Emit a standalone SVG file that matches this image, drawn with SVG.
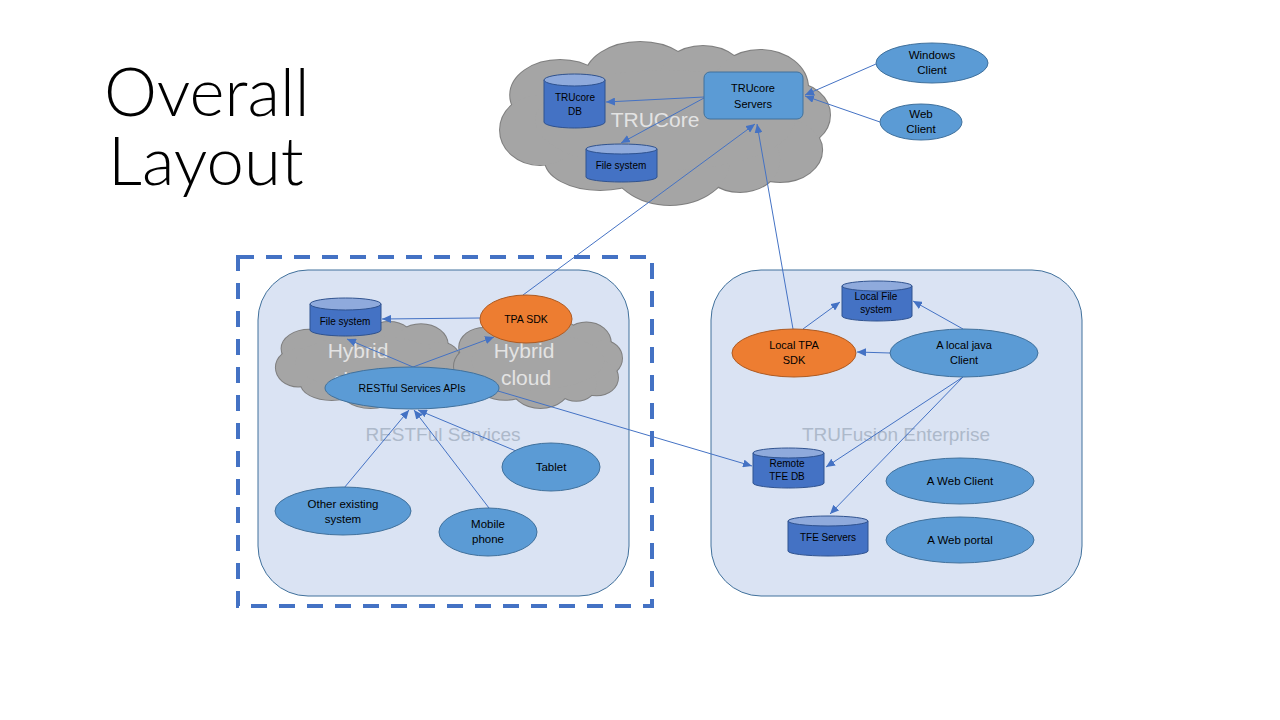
<svg xmlns="http://www.w3.org/2000/svg" xmlns:xlink="http://www.w3.org/1999/xlink" width="1280" height="720" viewBox="0 0 1280 720">
<style>
  .title{font-family:Lato,"Open Sans","Liberation Sans",sans-serif;font-weight:300;font-size:67px;fill:#000}
  .panel{fill:#DAE3F3;stroke:#41719C;stroke-width:1}
  .plabel{font-family:"Liberation Sans",Arial,sans-serif;font-size:19px;fill:#ADB9CA;text-anchor:middle}
  .clabel{font-family:"Liberation Sans",Arial,sans-serif;font-size:21px;fill:#E3E3E3;text-anchor:middle}
  .cstroke{fill:#A5A5A5;stroke:#7F7F7F;stroke-width:2}
  .cfill{fill:#A5A5A5;stroke:none}
  .ell{fill:#5B9BD5;stroke:#41719C;stroke-width:1}
  .org{fill:#ED7D31;stroke:#AE5A21;stroke-width:1}
  .cylb{fill:#4472C4;stroke:#2F528F;stroke-width:1}
  .cylt{fill:#8FAADC;stroke:#2F528F;stroke-width:1}
  .t{font-family:"Liberation Sans",Arial,sans-serif;font-size:11.5px;fill:#000;text-anchor:middle}
  .ts{font-family:"Liberation Sans",Arial,sans-serif;font-size:10px;fill:#000;text-anchor:middle}
  .conn{fill:none;stroke:#4472C4;stroke-width:1;marker-end:url(#arr)}
</style>
<defs>
  <marker id="arr" markerUnits="userSpaceOnUse" markerWidth="10" markerHeight="8" refX="9" refY="4" orient="auto">
    <path d="M0,0 L9,4 L0,8 Z" fill="#4472C4"/>
  </marker>
  <g id="cloudE">
    <ellipse vector-effect="non-scaling-stroke" cx="17.7" cy="32.5" rx="15.2" ry="21.5"/>
    <ellipse vector-effect="non-scaling-stroke" cx="42.1" cy="22.1" rx="16.8" ry="22.1"/>
    <ellipse vector-effect="non-scaling-stroke" cx="61.3" cy="24.5" rx="13.7" ry="22.1"/>
    <ellipse vector-effect="non-scaling-stroke" cx="78.7" cy="28.2" rx="14.6" ry="23.3"/>
    <ellipse vector-effect="non-scaling-stroke" cx="88.7" cy="44.8" rx="11.3" ry="19.6"/>
    <ellipse vector-effect="non-scaling-stroke" cx="84.8" cy="66.3" rx="12.8" ry="19.6"/>
    <ellipse vector-effect="non-scaling-stroke" cx="72.6" cy="72.4" rx="12.2" ry="19.6"/>
    <ellipse vector-effect="non-scaling-stroke" cx="51.2" cy="72.4" rx="18.3" ry="27.6"/>
    <ellipse vector-effect="non-scaling-stroke" cx="29.9" cy="72.4" rx="16.8" ry="18.4"/>
    <ellipse vector-effect="non-scaling-stroke" cx="11.6" cy="54" rx="12.2" ry="21.5"/>
    <ellipse vector-effect="non-scaling-stroke" cx="49.7" cy="47.9" rx="39.6" ry="30.7"/>
  </g>
</defs>

<rect width="1280" height="720" fill="#FFFFFF"/>

<g id="title">
  <text class="title" x="104" y="116">Overall</text>
  <text class="title" x="108" y="185">Layout</text>
</g>

<!-- TRUCore cloud -->
<g id="trucore-cloud">
  <use href="#cloudE" class="cstroke" transform="translate(502,42) scale(3.28,1.63)"/>
  <use href="#cloudE" class="cfill" transform="translate(502,42) scale(3.28,1.63)"/>
  <text class="clabel" x="655" y="127">TRUCore</text>
</g>

<!-- Panels -->
<g id="restful-panel">
  <rect x="238" y="257" width="414" height="349" fill="none" stroke="#4472C4" stroke-width="4" stroke-dasharray="16 12"/>
  <rect class="panel" x="258" y="270" width="371" height="326" rx="50" ry="50"/>
  <text class="plabel" x="443" y="441">RESTFul Services</text>
</g>
<g id="trufusion-panel">
  <rect class="panel" x="711" y="270" width="371" height="326" rx="50" ry="50"/>
  <text class="plabel" x="896" y="441">TRUFusion Enterprise</text>
</g>

<!-- Hybrid clouds -->
<g id="hybrid-cloud-left">
  <use href="#cloudE" class="cstroke" transform="translate(277,320) scale(1.83,0.88)"/>
  <use href="#cloudE" class="cfill" transform="translate(277,320) scale(1.83,0.88)"/>
  <text class="clabel" x="358" y="358">Hybrid</text>
  <text class="clabel" x="358" y="387">cloud</text>
</g>
<g id="hybrid-cloud-right">
  <use href="#cloudE" class="cstroke" transform="translate(455,318) scale(1.67,0.90)"/>
  <use href="#cloudE" class="cfill" transform="translate(455,318) scale(1.67,0.90)"/>
  <text class="clabel" x="524" y="358">Hybrid</text>
  <text class="clabel" x="526" y="385">cloud</text>
</g>

<!-- Connectors -->
<g id="connectors">
  <path class="conn" d="M876,64 L805,95"/>
  <path class="conn" d="M880,122 L805,96"/>
  <path class="conn" d="M704,97 L606,102"/>
  <path class="conn" d="M704,98 L621,143"/>
  <path class="conn" d="M523,295 L755,124"/>
  <path class="conn" d="M793,329 L757,124"/>
  <path class="conn" d="M480,318 L382,319"/>
  <path class="conn" d="M413,367 L347,339"/>
  <path class="conn" d="M413,367 L494,337"/>
  <path class="conn" d="M498,391 L752,466"/>
  <path class="conn" d="M344,488 L409,410"/>
  <path class="conn" d="M489,508 L414,410"/>
  <path class="conn" d="M516,451 L418,410"/>
  <path class="conn" d="M803,329 L840,302"/>
  <path class="conn" d="M963,329 L913,301"/>
  <path class="conn" d="M890,353 L857,352"/>
  <path class="conn" d="M963,377 L826,467"/>
  <path class="conn" d="M963,377 L830,514"/>
</g>

<!-- TRUCore nodes -->
<g id="trucore-servers">
  <rect x="704" y="72" width="99" height="47" rx="6" ry="6" fill="#5B9BD5" stroke="#41719C" stroke-width="1"/>
  <text class="t" x="753" y="92" style="font-size:11px">TRUcore</text>
  <text class="t" x="753" y="108" style="font-size:11px">Servers</text>
</g>
<g id="trucore-db">
  <path class="cylb" d="M544,80 L544,122 A30.5,6 0 0 0 605,122 L605,80 Z"/>
  <ellipse class="cylt" cx="574.5" cy="80" rx="30.5" ry="6"/>
  <text class="ts" x="575" y="101">TRUcore</text>
  <text class="ts" x="575" y="115">DB</text>
</g>
<g id="trucore-filesystem">
  <path class="cylb" d="M586,149 L586,177 A35.5,5 0 0 0 657,177 L657,149 Z"/>
  <ellipse class="cylt" cx="621.5" cy="149" rx="35.5" ry="5"/>
  <text class="ts" x="621" y="169">File system</text>
</g>
<g id="windows-client">
  <ellipse class="ell" cx="932" cy="63" rx="56" ry="20"/>
  <text class="t" x="932" y="59">Windows</text>
  <text class="t" x="932" y="74">Client</text>
</g>
<g id="web-client">
  <ellipse class="ell" cx="921" cy="122" rx="41" ry="18"/>
  <text class="t" x="921" y="118">Web</text>
  <text class="t" x="921" y="133">Client</text>
</g>

<!-- RESTful nodes -->
<g id="rest-filesystem">
  <path class="cylb" d="M310,304 L310,330 A35.5,6 0 0 0 381,330 L381,304 Z"/>
  <ellipse class="cylt" cx="345.5" cy="304" rx="35.5" ry="6"/>
  <text class="ts" x="345" y="325">File system</text>
</g>
<g id="tpa-sdk">
  <ellipse class="org" cx="526" cy="319" rx="46" ry="24"/>
  <text class="t" x="526" y="323" style="font-size:10.5px">TPA SDK</text>
</g>
<g id="restful-apis">
  <ellipse class="ell" cx="412" cy="388" rx="87" ry="21"/>
  <text class="t" x="412" y="392" style="font-size:10.5px">RESTful Services APIs</text>
</g>
<g id="other-existing-system">
  <ellipse class="ell" cx="343" cy="511" rx="68" ry="24"/>
  <text class="t" x="343" y="508">Other existing</text>
  <text class="t" x="343" y="523">system</text>
</g>
<g id="mobile-phone">
  <ellipse class="ell" cx="488" cy="532" rx="49" ry="24"/>
  <text class="t" x="488" y="528">Mobile</text>
  <text class="t" x="488" y="543">phone</text>
</g>
<g id="tablet">
  <ellipse class="ell" cx="551" cy="467" rx="49" ry="24"/>
  <text class="t" x="551" y="471">Tablet</text>
</g>

<!-- TRUFusion nodes -->
<g id="local-filesystem">
  <path class="cylb" d="M842,286 L842,316 A35,5 0 0 0 912,316 L912,286 Z"/>
  <ellipse class="cylt" cx="877" cy="286" rx="35" ry="5"/>
  <text class="ts" x="876" y="300">Local File</text>
  <text class="ts" x="876" y="313">system</text>
</g>
<g id="local-tpa-sdk">
  <ellipse class="org" cx="794" cy="353" rx="62" ry="24"/>
  <text class="t" x="794" y="349" style="font-size:11px">Local TPA</text>
  <text class="t" x="794" y="364" style="font-size:11px">SDK</text>
</g>
<g id="local-java-client">
  <ellipse class="ell" cx="964" cy="353" rx="74" ry="24"/>
  <text class="t" x="964" y="349" style="font-size:11px">A local java</text>
  <text class="t" x="964" y="364" style="font-size:11px">Client</text>
</g>
<g id="remote-tfe-db">
  <path class="cylb" d="M753,453 L753,483 A35.5,5 0 0 0 824,483 L824,453 Z"/>
  <ellipse class="cylt" cx="788.5" cy="453" rx="35.5" ry="5"/>
  <text class="ts" x="787" y="467">Remote</text>
  <text class="ts" x="787" y="480">TFE DB</text>
</g>
<g id="tfe-servers">
  <path class="cylb" d="M788,521 L788,551 A40,5 0 0 0 868,551 L868,521 Z"/>
  <ellipse class="cylt" cx="828" cy="521" rx="40" ry="5"/>
  <text class="ts" x="828" y="541">TFE Servers</text>
</g>
<g id="a-web-client">
  <ellipse class="ell" cx="960" cy="481" rx="74" ry="23"/>
  <text class="t" x="960" y="485">A Web Client</text>
</g>
<g id="a-web-portal">
  <ellipse class="ell" cx="960" cy="540" rx="74" ry="23"/>
  <text class="t" x="960" y="544">A Web portal</text>
</g>
</svg>
